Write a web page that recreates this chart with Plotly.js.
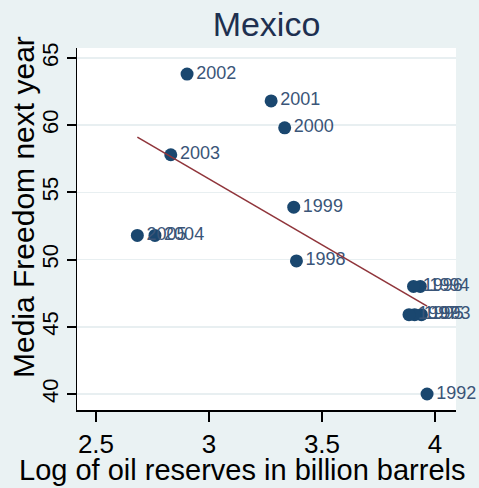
<!DOCTYPE html>
<html>
<head>
<meta charset="utf-8">
<script src="https://cdn.plot.ly/plotly-3.0.1.min.js"></script>
<style>html,body{margin:0;padding:0;background:#eaf2f3;}#chart{width:479px;height:488px;}</style>
</head>
<body>
<div id="chart"></div>
<script>
// Data (Mexico)
const years = ["1992","1993","1994","1995","1996","1997","1998","1999","2000","2001","2002","2003","2004","2005"];
const logOilReserves = [3.965, 3.94, 3.935, 3.91, 3.905, 3.885, 3.387, 3.375, 3.335, 3.275, 2.903, 2.831, 2.761, 2.683];
const mediaFreedomNextYear = [40, 45.9, 48, 45.9, 48, 45.9, 49.9, 53.9, 59.8, 61.8, 63.8, 57.8, 51.8, 51.8];
const xTicks = [2.5, 3, 3.5, 4];
const yTicks = [40, 45, 50, 55, 60, 65];

// Linear fit (OLS) from the data
const n = logOilReserves.length;
const mx = logOilReserves.reduce((a,b)=>a+b,0)/n;
const my = mediaFreedomNextYear.reduce((a,b)=>a+b,0)/n;
let sxy = 0, sxx = 0;
for (let i=0;i<n;i++){ sxy += (logOilReserves[i]-mx)*(mediaFreedomNextYear[i]-my); sxx += (logOilReserves[i]-mx)**2; }
const slope = sxy/sxx, intercept = my - slope*mx;
const xmin = Math.min(...logOilReserves), xmax = Math.max(...logOilReserves);
const fitX = [xmin, xmax];
const fitY = fitX.map(x => intercept + slope*x);

const font = "Liberation Sans, Arial, sans-serif";

const traces = [
  {
    x: logOilReserves, y: mediaFreedomNextYear, text: years,
    type: "scatter", mode: "markers+text", textposition: "middle right",
    marker: {color: "#1a476f", size: 13},
    textfont: {family: font, size: 18, color: "#3a5578"},
    cliponaxis: false, showlegend: false, hoverinfo: "x+y+text"
  },
  {
    x: fitX, y: fitY, type: "scatter", mode: "lines",
    line: {color: "#90353b", width: 1.6}, showlegend: false
  }
];

const layout = {
  width: 479, height: 488,
  margin: {l: 77, r: 23, t: 48, b: 78},
  paper_bgcolor: "#eaf2f3", plot_bgcolor: "#ffffff",
  font: {family: font, color: "#000"},
  title: {text: "Mexico", font: {family: font, size: 34, color: "#1e3050"},
          x: 0.5, xref: "paper", y: 1 - 24/488, yref: "container", yanchor: "middle"},
  xaxis: {
    range: [2.416, 4.093], tickvals: xTicks, ticktext: xTicks.map(String),
    showgrid: false, zeroline: false, showline: true, linecolor: "#000", linewidth: 1.5,
    ticks: "outside", ticklen: 10, tickwidth: 2, tickcolor: "#000",
    tickfont: {family: font, size: 26, color: "#000"}
  },
  yaxis: {
    range: [38.81, 65.74], tickvals: yTicks, ticktext: yTicks.map(String), tickangle: -90,
    showgrid: true, gridcolor: "#e8eff1", gridwidth: 1.5, zeroline: false,
    showline: true, linecolor: "#000", linewidth: 1.5,
    ticks: "outside", ticklen: 9, tickwidth: 2, tickcolor: "#000",
    tickfont: {family: font, size: 22, color: "#000"}
  },
  annotations: [
    {text: "Log of oil reserves in billion barrels", xref: "paper", yref: "paper",
     x: (242-77)/379, y: (410-470)/362, xanchor: "center", yanchor: "middle",
     showarrow: false, font: {family: font, size: 29, color: "#000"}},
    {text: "Media Freedom next year", xref: "paper", yref: "paper",
     x: (23-77)/379, y: (410-207)/362, xanchor: "center", yanchor: "middle", textangle: -90,
     showarrow: false, font: {family: font, size: 30, color: "#000"}}
  ]
};

Plotly.newPlot("chart", traces, layout, {staticPlot: true, displayModeBar: false});
</script>
</body>
</html>
